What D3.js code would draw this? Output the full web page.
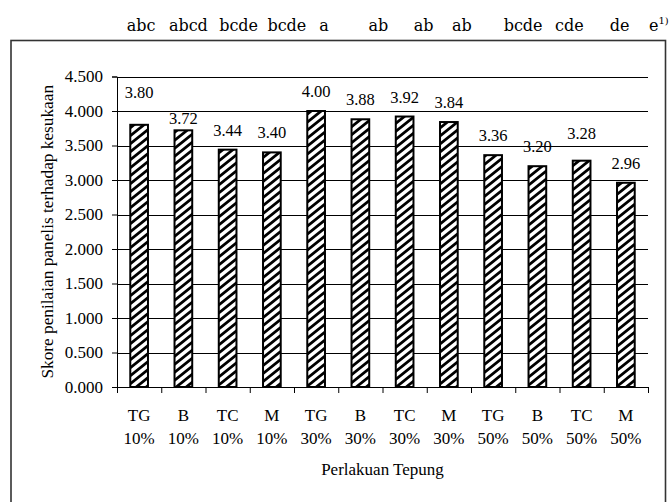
<!DOCTYPE html>
<html>
<head>
<meta charset="utf-8">
<script src="https://cdn.jsdelivr.net/npm/d3@7"></script>
<style>
  body { margin: 0; background: #fff; }
  svg { display: block; }
  text { font-family: "Liberation Serif", "Times New Roman", serif; fill: #000; }
</style>
</head>
<body>
<svg width="671" height="502"></svg>
<script>
// data
let jenis = ['TG', 'B', 'TC', 'M', 'TG', 'B', 'TC', 'M', 'TG', 'B', 'TC', 'M']
  , kadar = ['10%', '10%', '10%', '10%', '30%', '30%', '30%', '30%', '50%', '50%', '50%', '50%']
  , skor = [3.80, 3.72, 3.44, 3.40, 4.00, 3.88, 3.92, 3.84, 3.36, 3.20, 3.28, 2.96]
  , notasi = ['abc', 'abcd', 'bcde', 'bcde', 'a', 'ab', 'ab', 'ab', 'bcde', 'cde', 'de', 'e']
  , yTicks = [0, 0.5, 1, 1.5, 2, 2.5, 3, 3.5, 4, 4.5];

// hand placement in the original: value labels moved up/down (px),
// letter row typed with spaces so it drifts off the bar centres (px)
let labelNudge = [-13, 8, 0, 0, 0, 0, 0, 0, 0, 0, -8, 0]
  , notasiDx = [2, 5, 11, 15, 8, 18, 19, 13, 30, 32, 38, 33];

let idx = d3.range(skor.length)
  , pLeft = 117, pRight = 648, pTop = 76.5, pBottom = 387
  , serif = '"Liberation Serif", "Times New Roman", serif';

let svg = d3.select('svg');

// outer frame
svg.append('rect')
  .attr('x', 11).attr('y', 40.5)
  .attr('width', 654.5).attr('height', 480)
  .attr('fill', 'none')
  .attr('stroke', '#333')
  .attr('stroke-width', 1.6);

let defs = svg.append('defs');
defs.append('pattern')
  .attr('id', 'hatch')
  .attr('patternUnits', 'userSpaceOnUse')
  .attr('width', 10).attr('height', 8)
  .call(p => {
    p.append('rect').attr('width', 10).attr('height', 8).attr('fill', '#fff');
    p.append('path')
      .attr('d', 'M-5,4L5,-4M0,8L10,0M5,12L15,4')
      .attr('stroke', '#000')
      .attr('stroke-width', 2.8);
  });

let x = d3.scaleBand().domain(idx).range([pLeft, pRight])
  , barW = x.bandwidth() * 0.4
  , y = d3.scaleLinear().domain([0, 4.5]).range([pBottom, pTop])
  , cx = i => x(i) + x.bandwidth() / 2;

// grid
svg.append('g')
  .selectAll('line')
  .data(yTicks.slice(1))
  .join('line')
  .attr('x1', pLeft).attr('x2', pRight)
  .attr('y1', d => Math.round(y(d)) + 0.5)
  .attr('y2', d => Math.round(y(d)) + 0.5)
  .attr('stroke', '#000');

// y axis
let yAxis = svg.append('g')
  .attr('transform', `translate(${pLeft},0)`)
  .call(d3.axisLeft(y).tickValues(yTicks).tickSize(5).tickPadding(9).tickFormat(d3.format('.3f')));
yAxis.attr('font-family', serif).attr('font-size', 17);
yAxis.select('.domain').attr('stroke', '#000');
yAxis.selectAll('text')
  .style('font-family', serif)
  .style('font-size', '17px');

// x axis: ticks between the categories
let xAxis = svg.append('g')
  .attr('transform', `translate(0,${pBottom})`)
  .call(d3.axisBottom(d3.scaleLinear().domain([0, skor.length]).range([pLeft, pRight]))
    .tickValues(d3.range(skor.length + 1)).tickSize(6).tickFormat(''));
xAxis.select('.domain').attr('stroke', '#000');

// bars
svg.append('g')
  .selectAll('rect')
  .data(idx)
  .join('rect')
  .attr('x', i => cx(i) - barW / 2)
  .attr('y', i => y(skor[i]))
  .attr('width', barW)
  .attr('height', i => y(0) - y(skor[i]))
  .attr('fill', 'url(#hatch)')
  .attr('stroke', '#000')
  .attr('stroke-width', 2);

// value labels
svg.append('g')
  .selectAll('text')
  .data(idx)
  .join('text')
  .attr('x', cx)
  .attr('y', i => y(skor[i]) - 14 + labelNudge[i])
  .attr('text-anchor', 'middle')
  .style('font-family', serif)
  .style('font-size', '16.5px')
  .text(i => skor[i].toFixed(2));

// category labels
let cat = svg.append('g')
  .selectAll('text')
  .data(idx)
  .join('text')
  .attr('text-anchor', 'middle')
  .style('font-family', serif)
  .style('font-size', '17px');
cat.append('tspan')
  .attr('x', cx)
  .attr('y', 421)
  .text(i => jenis[i]);
cat.append('tspan')
  .attr('x', cx)
  .attr('y', 444)
  .text(i => kadar[i]);

// significance letters above the frame
svg.append('g')
  .selectAll('text')
  .data(idx)
  .join('text')
  .attr('x', i => cx(i) + notasiDx[i])
  .attr('y', 31)
  .attr('text-anchor', 'middle')
  .style('font-family', '"DejaVu Serif", serif')
  .style('font-size', '16px')
  .text(i => notasi[i])
  .filter(i => i === skor.length - 1)
  .append('tspan')
  .attr('dy', -7)
  .style('font-size', '10px')
  .text('1)');

// axis titles
svg.append('text')
  .attr('x', (pLeft + pRight) / 2)
  .attr('y', 475)
  .attr('text-anchor', 'middle')
  .style('font-family', serif)
  .style('font-size', '17px')
  .text('Perlakuan Tepung');

svg.append('text')
  .attr('transform', `translate(53,${(pTop + pBottom) / 2}) rotate(-90)`)
  .attr('text-anchor', 'middle')
  .style('font-family', serif)
  .style('font-size', '17.3px')
  .text('Skore penilaian panelis terhadap kesukaan');
</script>
</body>
</html>
